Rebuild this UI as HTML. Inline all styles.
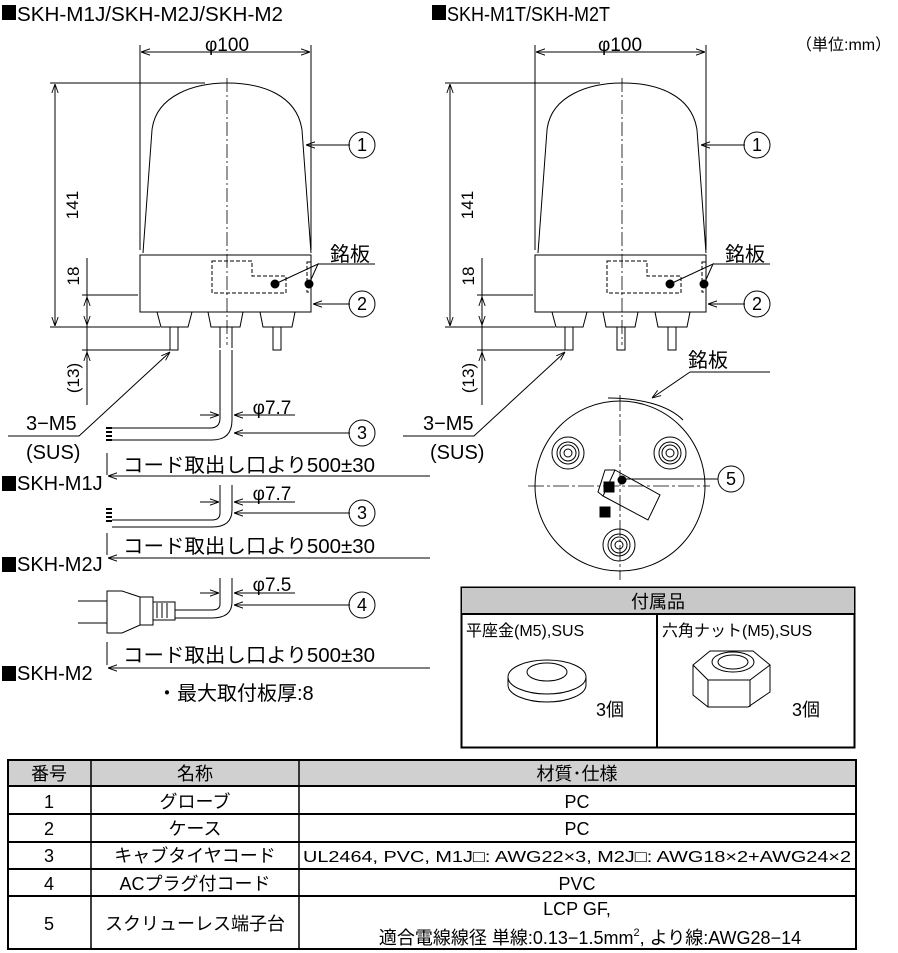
<!DOCTYPE html>
<html><head><meta charset="utf-8"><style>
body{margin:0;background:#fff}
svg{display:block}
text{font-family:"Liberation Sans","Noto Sans CJK JP",sans-serif;fill:#000}
</style></head><body>
<svg width="898" height="953" viewBox="0 0 898 953" xmlns="http://www.w3.org/2000/svg">
<defs>
<marker id="a" viewBox="0 0 10 10" refX="10" refY="5" markerWidth="9" markerHeight="9" orient="auto-start-reverse"><path d="M0,1.5 L10,5 L0,8.5" fill="none" stroke="#000" stroke-width="1"/></marker>
<g id="lamp" fill="none" stroke="#000" stroke-width="1">
<path d="M143,253 L152,130 C156,95 195,83 227,83 C262,83 297,95 302,130 L311,253"/>
<rect x="140" y="255" width="171" height="57"/>
<path d="M212,261 H252 V276 H286 V293 H212 Z M307,262 H311 V292 H307 Z" stroke-dasharray="4,2"/>
<circle cx="275" cy="284" r="4" fill="#000"/><circle cx="309" cy="284" r="4" fill="#000"/>
<path d="M275,284 L318,264 L309,284 M318,264 H375"/>
<path d="M157,312 L161,327 H188 L192,312 M208,312 L211,327 H240 L243,312 M260,312 L263,327 H292 L295,312"/>
<path d="M170,327 V350 H178 V327 M273,327 V350 H281 V327"/>
<path d="M227,78 V345" stroke-dasharray="14,3,2,3" stroke-width="0.8"/>
<path d="M140,250 V45 M311,250 V45"/>
<path d="M141,52 H310" marker-start="url(#a)" marker-end="url(#a)"/>
<path d="M50,83 H205 M55,84 V326" marker-end="url(#a)"/>
<path d="M55,326 V84" marker-end="url(#a)"/>
<path d="M50,327 H160 M82,295 H138 M87,258 V405 M82,350 H172"/>
<path d="M87,297 V325" marker-start="url(#a)" marker-end="url(#a)"/>
<path d="M87,385 V352" marker-end="url(#a)"/>
<path d="M350,145 H306" marker-end="url(#a)"/>
<path d="M350,304 H313" marker-end="url(#a)"/>
<circle cx="362" cy="145" r="13"/><circle cx="362" cy="304" r="13"/>
<path d="M8,436 H79 L170,352" marker-end="url(#a)"/>
</g>
</defs>
<g fill="#000">
<rect x="2" y="5" width="14" height="15"/><rect x="432" y="5" width="14" height="15"/>
<rect x="2" y="476" width="14" height="15"/><rect x="2" y="557" width="14" height="15"/><rect x="2" y="666" width="14" height="15"/>
</g>
<g font-size="20">
<text x="17" y="21" textLength="266" lengthAdjust="spacingAndGlyphs">SKH-M1J/SKH-M2J/SKH-M2</text>
<text x="447" y="21" textLength="163" lengthAdjust="spacingAndGlyphs">SKH-M1T/SKH-M2T</text>
<text x="796" y="50" font-size="16">（単位:mm）</text>
</g>
<use href="#lamp"/>
<use href="#lamp" transform="translate(395,0)"/>
<g fill="none" stroke="#000" stroke-width="1">
<path d="M220,327 V348 M232,327 V348"/>
<path d="M220,350 V418 Q220,428 210,428 H112 M232,350 V420 Q232,440 212,440 H112"/>
<path d="M106,428 H112 M106,432 H112 M106,436 H112 M106,440 H112" stroke-width="2"/>
<path d="M617,327 V350 H625 V327"/>
<path d="M220,402 V418 M232,402 V418"/><path d="M200,415 H219" marker-end="url(#a)"/>
<path d="M295,415 H234" marker-end="url(#a)"/>
<path d="M350,433 H234" marker-end="url(#a)"/>
<circle cx="362" cy="433" r="13"/>
<path d="M107,453 V475 M107,533 V555 M107,642 V665"/>
<path d="M430,476 H108" marker-end="url(#a)"/>
<path d="M430,558 H108" marker-end="url(#a)"/>
<path d="M430,668 H108" marker-end="url(#a)"/>
<path d="M220,485 V513 Q220,520 212,520 H112 M232,485 V510 Q232,527 212,527 H112"/>
<path d="M106,509 H112 M106,513 H112 M106,517 H112 M106,521 H112" stroke-width="2"/>
<path d="M200,502 H219" marker-end="url(#a)"/><path d="M295,502 H234" marker-end="url(#a)"/>
<path d="M350,513 H234" marker-end="url(#a)"/><circle cx="362" cy="513" r="13"/>
<path d="M220,578 V604 Q220,610 212,610 H175 M232,578 V602 Q232,618 212,618 H175"/>
<path d="M200,593 H219" marker-end="url(#a)"/><path d="M295,593 H234" marker-end="url(#a)"/>
<path d="M350,605 H234" marker-end="url(#a)"/><circle cx="362" cy="605" r="13"/>
<path d="M107,591 V633 H122 L140,625 H153 V620 H175 V602 H153 V597 H140 L122,591 Z M153,597 V625 M140,597 V625 M157,603 V618 M162,603 V618 M167,603 V618"/>
<path d="M78,601 H107 M78,623 H107"/>
<circle cx="620" cy="486" r="85"/>
<path d="M608,398 C640,398 668,405 683,420"/>
<path d="M620,395 V580 M528,486 H710" stroke-dasharray="16,3,3,3" stroke-width="0.8"/>
<path d="M690,372 H770"/><path d="M690,372 L652,398" marker-end="url(#a)"/>
<g id="nut"><circle cx="568" cy="453" r="16"/><circle cx="568" cy="453" r="11"/><circle cx="568" cy="453" r="8"/><circle cx="568" cy="453" r="4"/></g>
<use href="#nut" transform="translate(102,0)"/><use href="#nut" transform="translate(51,92)"/>
<path d="M615,470 L660,495 L648,520 L603,496 Z M615,470 L605,470 L598,492 L603,496"/>
<rect x="604" y="482" width="10" height="10" fill="#000"/><rect x="600" y="507" width="10" height="10" fill="#000"/>
<circle cx="622" cy="480" r="4" fill="#000"/>
<path d="M718,479 H624"/><circle cx="731" cy="479" r="13"/>
</g>
<g font-size="19" text-anchor="middle">
<text x="227" y="51">φ100</text><text x="620" y="51">φ100</text>
<text x="272" y="414">φ7.7</text><text x="272" y="500">φ7.7</text><text x="272" y="591">φ7.5</text>
</g>
<g font-size="18" text-anchor="middle">
<text x="362" y="151">1</text><text x="362" y="310">2</text>
<text x="757" y="151">1</text><text x="757" y="310">2</text>
<text x="362" y="439">3</text><text x="362" y="519">3</text><text x="362" y="611">4</text><text x="731" y="485">5</text>
</g>
<g font-size="20">
<text x="330" y="261">銘板</text><text x="725" y="261">銘板</text><text x="688" y="367">銘板</text>
<text x="26" y="430">3−M5</text><text x="26" y="459">(SUS)</text>
<text x="423" y="430">3−M5</text><text x="430" y="459">(SUS)</text>
<text x="123" y="472" textLength="252" lengthAdjust="spacingAndGlyphs">コード取出し口より500±30</text>
<text x="123" y="553" textLength="252" lengthAdjust="spacingAndGlyphs">コード取出し口より500±30</text>
<text x="123" y="662" textLength="252" lengthAdjust="spacingAndGlyphs">コード取出し口より500±30</text>
<text x="17" y="490">SKH-M1J</text><text x="17" y="571">SKH-M2J</text><text x="17" y="680">SKH-M2</text>
<text x="157" y="700">・最大取付板厚:8</text>
</g>
<g font-size="17">
<text transform="translate(78,205) rotate(-90)" text-anchor="middle">141</text>
<text transform="translate(473,205) rotate(-90)" text-anchor="middle">141</text>
<text transform="translate(79,276) rotate(-90)" text-anchor="middle">18</text>
<text transform="translate(474,276) rotate(-90)" text-anchor="middle">18</text>
<text transform="translate(79,378) rotate(-90)" text-anchor="middle">(13)</text>
<text transform="translate(474,378) rotate(-90)" text-anchor="middle">(13)</text>
</g>
<g fill="none" stroke="#000">
<rect x="461.5" y="587.5" width="393" height="160" stroke-width="2"/>
<rect x="462" y="588" width="392" height="26" fill="#c8c8c8" stroke="none"/>
<path d="M462,614 H854 M657,614 V747" stroke-width="2"/>
<ellipse cx="547" cy="677" rx="39" ry="17"/><path d="M508,677 V685 A39,17 0 0 0 586,685 V677"/>
<ellipse cx="547" cy="672" rx="20" ry="9"/>
<path d="M693,665 L710,651 H753 L770,665 V692 L748,707 H708 L693,695 Z M708,707 V680 L693,665 M708,680 H750 L770,665 M750,680 V707"/>
<ellipse cx="733" cy="662" rx="21" ry="10"/><ellipse cx="733" cy="662" rx="15" ry="7"/>
</g>
<g font-size="16">
<text x="658" y="608" text-anchor="middle" font-size="18">付属品</text>
<text x="466" y="636">平座金(M5),SUS</text>
<text x="662" y="636">六角ナット(M5),SUS</text>
<text x="596" y="716" font-size="18">3個</text><text x="792" y="716" font-size="18">3個</text>
</g>
<g fill="none" stroke="#000">
<rect x="8" y="760" width="848" height="26" fill="#d0d0d0" stroke="none"/>
<rect x="8" y="760" width="848" height="189" stroke-width="2"/>
<path d="M8,786 H856 M8,814 H856 M8,842 H856 M8,869 H856 M8,896 H856" stroke-width="2"/>
<path d="M91,760 V949 M299,760 V949" stroke-width="1.5"/>
</g>
<g font-size="18" text-anchor="middle">
<text x="49" y="780">番号</text><text x="195" y="780">名称</text><text x="577" y="780">材質･仕様</text>
<text x="49" y="808">1</text><text x="195" y="808">グローブ</text><text x="577" y="808">PC</text>
<text x="49" y="835">2</text><text x="195" y="835">ケース</text><text x="577" y="835">PC</text>
<text x="49" y="862">3</text><text x="195" y="862">キャブタイヤコード</text>
<text x="577" y="862" font-size="16" textLength="548" lengthAdjust="spacingAndGlyphs">UL2464, PVC, M1J□: AWG22×3, M2J□: AWG18×2+AWG24×2</text>
<text x="49" y="890">4</text><text x="195" y="890">ACプラグ付コード</text><text x="577" y="890">PVC</text>
<text x="49" y="930">5</text><text x="195" y="930">スクリューレス端子台</text>
<text x="577" y="915">LCP GF,</text>
<text x="590" y="944">適合電線線径 単線:0.13−1.5mm<tspan font-size="11" dy="-8">2</tspan><tspan dy="8">, より線:AWG28−14</tspan></text>
</g>
</svg>
</body></html>
